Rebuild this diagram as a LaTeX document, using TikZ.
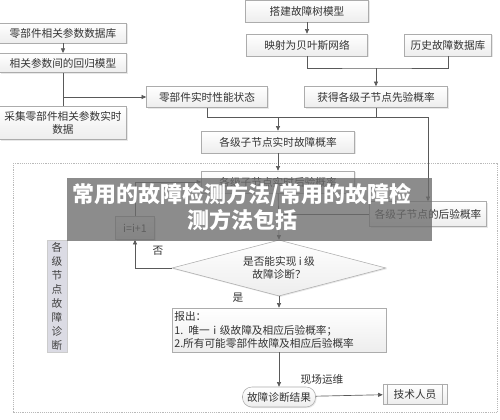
\documentclass[tikz,border=0pt]{standalone}
\usepackage{fontspec}
\setmainfont{Noto Sans CJK SC}
\usetikzlibrary{arrows.meta,shapes.geometric,shadows}

\tikzset{
  flowbox/.style={draw=gray!65, line width=0.4pt, top color=white, bottom color=gray!14,
    drop shadow={opacity=0.18, shadow xshift=0.8pt, shadow yshift=-0.8pt},
    inner sep=1pt, align=center, font=\fontsize{8}{10}\selectfont, text=black!80},
  conn/.style={draw=black!65, line width=0.5pt},
  arr/.style={conn, -{Triangle[length=3.5pt,width=3pt]}},
  lbl/.style={font=\fontsize{8}{10}\selectfont, text=black!80, inner sep=0.75pt}
}

\begin{document}
\begin{tikzpicture}[x=0.75pt,y=0.75pt,yscale=-1,xscale=1]
\useasboundingbox (0,0) rectangle (500,419);
\fill[white] (0,0) rectangle (500,419);

%Dotted frame
\draw[gray!55, line width=0.4pt, dash pattern=on 0.6pt off 0.8pt] (13,163) rectangle (497,412);

% Text Node
\node[flowbox, minimum width=95.25pt, minimum height=15pt] (db) at (63,33) {零部件相关参数数据库};
% Text Node
\node[flowbox, minimum width=95.25pt, minimum height=14.5pt] (reg) at (63,63) {相关参数间的回归模型};
% Text Node
\node[flowbox, minimum width=95.25pt, minimum height=24.75pt, text width=93pt] (coll) at (63,123) {采集零部件相关参数实时\\数据};
% Text Node
\node[flowbox, minimum width=90.75pt, minimum height=15.75pt] (state) at (207,97) {零部件实时性能状态};
% Text Node
\node[flowbox, minimum width=92.25pt, minimum height=16.5pt] (tree) at (307,11) {搭建故障树模型};
% Text Node
\node[flowbox, minimum width=90.75pt, minimum height=16.5pt] (bn) at (307,45) {映射为贝叶斯网络};
% Text Node
\node[flowbox, minimum width=65.25pt, minimum height=16.5pt] (hist) at (448,45) {历史故障数据库};
% Text Node
\node[flowbox, minimum width=107.25pt, minimum height=15.75pt] (prior) at (376,97) {获得各级子节点先验概率};
% Text Node
\node[flowbox, minimum width=114.75pt, minimum height=16.5pt] (rtfp) at (278,142) {各级子节点实时故障概率};
% Text Node
\node[flowbox, minimum width=114.75pt, minimum height=16.5pt] (rtpost) at (278,182) {各级子节点实时后验概率};
% Text Node
\node[flowbox, minimum width=87.75pt, minimum height=18.75pt] (post) at (428,214) {各级子节点的后验概率};
% Text Node
\node[flowbox, minimum width=29.25pt, minimum height=17.25pt, top color=gray!8, bottom color=gray!25] (inc) at (135,228) {i=i+1};
% Diamond
\node[flowbox, diamond, aspect=3.8, inner sep=0pt, minimum width=160.5pt, minimum height=42pt] (dia) at (279,268) {是否能实现 i 级\\故障诊断？};
% Text Node
\node[flowbox, minimum width=160.5pt, minimum height=33pt, text width=157pt, align=left] (report) at (279,330) {报出：\\1. 唯一 i 级故障及相应后验概率；\\2.所有可能零部件故障及相应后验概率};
% Text Node
\node[flowbox, rounded corners=7pt, minimum width=54.75pt, minimum height=15pt] (result) at (279,397) {故障诊断结果};
% Text Node
\node[flowbox, minimum width=48pt, minimum height=15pt] (tech) at (415,394) {技术人员};
\draw[gray!65, line width=0.4pt] ([xshift=3.5pt]tech.north west) -- ([xshift=3.5pt]tech.south west)
  ([xshift=-3.5pt]tech.north east) -- ([xshift=-3.5pt]tech.south east);
% Side label
\node[draw=gray!40, fill=blue!14!gray!25, minimum width=15pt, minimum height=84pt, inner sep=0pt,
  align=center, font=\fontsize{8}{10.5}\selectfont, text=black!75] (side) at (57,296) {各\\级\\节\\点\\故\\障\\诊\\断};

%Connectors
\draw[arr] (db) -- (reg);
\draw[conn] (reg) -- (coll);
\draw[arr] (reg.south |- state.west) -- (state);
\draw[arr] (tree) -- (bn);
\coordinate (j1) at (376,68);
\draw[conn] (bn.south) |- (j1) -| (hist.south);
\draw[arr] (j1) -- (prior.north);
\coordinate (j2) at (428,117);
\draw[arr] (state.south) |- (j2) -- (post.north);
\draw[conn] (prior.south) -- (prior.south |- j2);
\draw[arr] (rtfp.north |- j2) -- (rtfp.north);
\draw[arr] (rtfp) -- (rtpost);
\draw[arr] (rtpost) -- (dia.north);
\draw[conn] (post.west) -- (rtpost.south |- post.west);
\draw[arr] (dia.west) -| (inc.south);
\draw[arr] (inc.north) |- (rtpost.west);
\draw[arr] (dia.south) -- (report.north);
\draw[arr] (report) -- (result);
\draw[arr] (result) -- (tech);

% Labels
\node[lbl] (no) at (158,251) {否};
\node[lbl] (yes) at (238,298) {是};
\node[lbl] (site) at (322,379) {现场运维};

% Banner
\fill[gray!85!black, opacity=0.78] (67,178) rectangle (432,241);
\node[font=\fontsize{16.5}{19}\selectfont\bfseries, text=white, align=center, inner sep=0pt] (banner) at (242,207)
  {常用的故障检测方法/常用的故障检\\测方法包括};

\end{tikzpicture}
\end{document}
